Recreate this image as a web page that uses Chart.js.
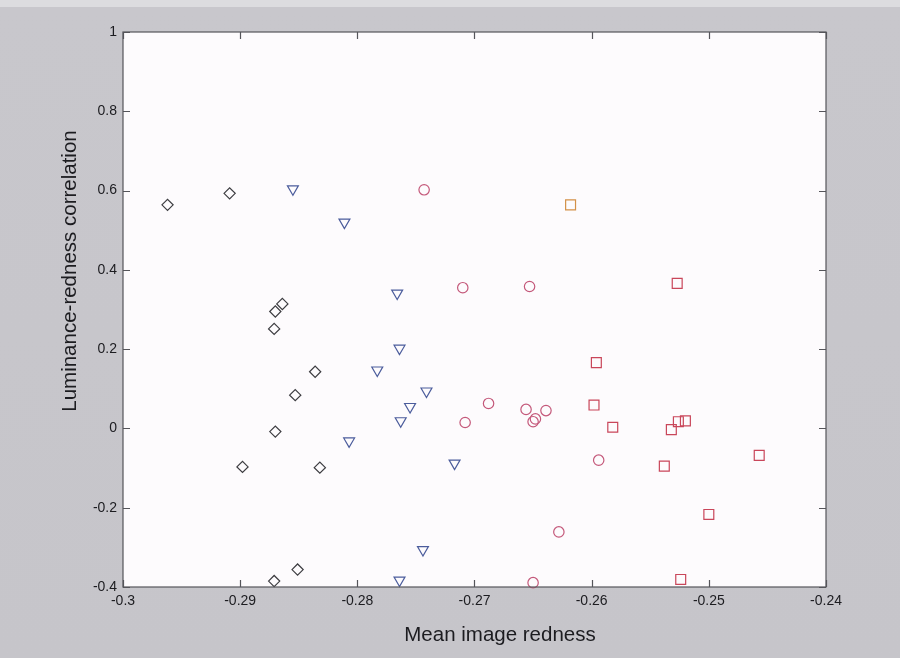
<!DOCTYPE html>
<html>
<head>
<meta charset="utf-8">
<title>Mean image redness vs luminance-redness correlation</title>
<script src="https://cdn.jsdelivr.net/npm/chart.js@4"></script>
<style>
    html, body { margin: 0; padding: 0; }
    body {
        width: 900px;
        height: 658px;
        background: linear-gradient(to bottom, #dcdcdf 0px, #dcdcdf 7px, #c8c7cc 7px, #c6c5ca 100%);
        overflow: hidden;
    }
    canvas { display: block; }
</style>
</head>
<body>
<canvas id="scatterChart" width="900" height="658"></canvas>
<script>
// --- 1. DATA ---
const xTicks = [-0.3, -0.29, -0.28, -0.27, -0.26, -0.25, -0.24];
const yTicks = [-0.4, -0.2, 0, 0.2, 0.4, 0.6, 0.8, 1];

const diamondX = [-0.2962, -0.2909, -0.2864, -0.2870, -0.2871, -0.2836, -0.2853, -0.2870, -0.2898, -0.2832, -0.2851, -0.2871];
const diamondY = [0.564, 0.593, 0.314, 0.295, 0.251, 0.143, 0.084, -0.008, -0.097, -0.099, -0.356, -0.385];

const triangleX = [-0.2855, -0.2811, -0.2766, -0.2764, -0.2783, -0.2741, -0.2755, -0.2763, -0.2807, -0.2717, -0.2744, -0.2764];
const triangleY = [0.604, 0.520, 0.341, 0.202, 0.147, 0.094, 0.055, 0.019, -0.032, -0.088, -0.306, -0.383];

const circleX = [-0.2743, -0.2710, -0.2653, -0.2688, -0.2708, -0.2656, -0.2648, -0.2650, -0.2639, -0.2594, -0.2628, -0.2650];
const circleY = [0.602, 0.355, 0.358, 0.063, 0.015, 0.048, 0.024, 0.017, 0.045, -0.080, -0.261, -0.389];

const squareX = [-0.2618, -0.2527, -0.2596, -0.2598, -0.2582, -0.2532, -0.2526, -0.2520, -0.2538, -0.2457, -0.2500, -0.2524];
const squareY = [0.564, 0.366, 0.166, 0.059, 0.003, -0.003, 0.017, 0.019, -0.095, -0.068, -0.217, -0.381];

const xTitle = "Mean image redness";
const yTitle = "Luminance-redness correlation";

// --- 2. HELPERS ---
const FONT = "'Liberation Sans', Arial, sans-serif";
const TEXT_COLOR = "#1c1c20";
const FRAME_COLOR = "#55555a";

function toPoints(xs, ys) {
    return xs.map((x, i) => ({ x: x, y: ys[i] }));
}

function fmtTick(v) {
    return String(Number(v.toFixed(2)));
}

// fixed plot box inside the canvas
function fixScale(size) {
    return function (scale) {
        if (scale.isHorizontal()) scale.height = size;
        else scale.width = size;
        scale.paddingLeft = 0;
        scale.paddingRight = 0;
        scale.paddingTop = 0;
        scale.paddingBottom = 0;
    };
}

// white plot area, closed frame with inward ticks, axis titles
const plotFrame = {
    id: "plotFrame",
    beforeDraw(chart) {
        const { ctx, chartArea: a } = chart;
        ctx.save();
        ctx.fillStyle = "#fdfbfd";
        ctx.fillRect(a.left, a.top, a.right - a.left, a.bottom - a.top);
        ctx.restore();
    },
    afterDraw(chart) {
        const { ctx, chartArea: a, scales } = chart;
        const tick = 7;
        ctx.save();
        ctx.strokeStyle = FRAME_COLOR;
        ctx.lineWidth = 1.2;
        ctx.strokeRect(a.left, a.top, a.right - a.left, a.bottom - a.top);

        ctx.beginPath();
        scales.x.ticks.forEach(t => {
            const px = Math.round(scales.x.getPixelForValue(t.value)) + 0.5;
            ctx.moveTo(px, a.bottom); ctx.lineTo(px, a.bottom - tick);
            ctx.moveTo(px, a.top); ctx.lineTo(px, a.top + tick);
        });
        scales.y.ticks.forEach(t => {
            const py = Math.round(scales.y.getPixelForValue(t.value)) + 0.5;
            ctx.moveTo(a.left, py); ctx.lineTo(a.left + tick, py);
            ctx.moveTo(a.right, py); ctx.lineTo(a.right - tick, py);
        });
        ctx.stroke();

        ctx.fillStyle = TEXT_COLOR;
        ctx.font = `20.5px ${FONT}`;
        ctx.textAlign = "center";
        ctx.textBaseline = "alphabetic";
        ctx.fillText(xTitle, 500, 641);

        ctx.translate(76, 271);
        ctx.rotate(-Math.PI / 2);
        ctx.fillText(yTitle, 0, 0);
        ctx.restore();
    }
};

// --- 3. CHART ---
const marker = (style, color, radius, rotation) => ({
    pointStyle: style,
    pointRadius: radius,
    pointHoverRadius: radius,
    pointRotation: rotation || 0,
    pointBorderColor: color,
    pointBackgroundColor: "rgba(0,0,0,0)",
    pointBorderWidth: 1.2,
    showLine: false,
    clip: false
});

const ctx = document.getElementById("scatterChart").getContext("2d");

new Chart(ctx, {
    type: "scatter",
    data: {
        datasets: [
            Object.assign({ label: "diamond", data: toPoints(diamondX, diamondY) },
                marker("rectRot", "#3c3c40", 5.6)),
            Object.assign({ label: "triangle", data: toPoints(triangleX, triangleY) },
                marker("triangle", "#4b5c9c", 6.3, 180)),
            Object.assign({ label: "circle", data: toPoints(circleX, circleY) },
                marker("circle", "#c4587a", 5.2)),
            Object.assign({ label: "square", data: toPoints(squareX, squareY) },
                marker("rect", "#c9465a", 7), {
                    // the top-most square is drawn in orange
                    pointBorderColor: c => (c.type === "data" && c.dataIndex === 0) ? "#d39148" : "#c9465a"
                })
        ]
    },
    options: {
        responsive: false,
        animation: false,
        events: [],
        layout: { padding: { left: 0, right: 74, top: 32, bottom: 0 } },
        plugins: {
            legend: { display: false },
            tooltip: { enabled: false }
        },
        scales: {
            x: {
                type: "linear",
                min: xTicks[0],
                max: xTicks[xTicks.length - 1],
                afterBuildTicks: s => { s.ticks = xTicks.map(v => ({ value: v })); },
                afterFit: fixScale(71),
                grid: { display: false, drawTicks: false },
                border: { display: false },
                ticks: {
                    padding: 6,
                    color: TEXT_COLOR,
                    font: { family: FONT, size: 14 },
                    maxRotation: 0,
                    autoSkip: false,
                    callback: v => fmtTick(v)
                }
            },
            y: {
                type: "linear",
                min: yTicks[0],
                max: yTicks[yTicks.length - 1],
                afterBuildTicks: s => { s.ticks = yTicks.map(v => ({ value: v })); },
                afterFit: fixScale(123),
                grid: { display: false, drawTicks: false },
                border: { display: false },
                ticks: {
                    padding: 6,
                    color: TEXT_COLOR,
                    font: { family: FONT, size: 14 },
                    autoSkip: false,
                    callback: v => fmtTick(v)
                }
            }
        }
    },
    plugins: [plotFrame]
});
</script>
</body>
</html>
